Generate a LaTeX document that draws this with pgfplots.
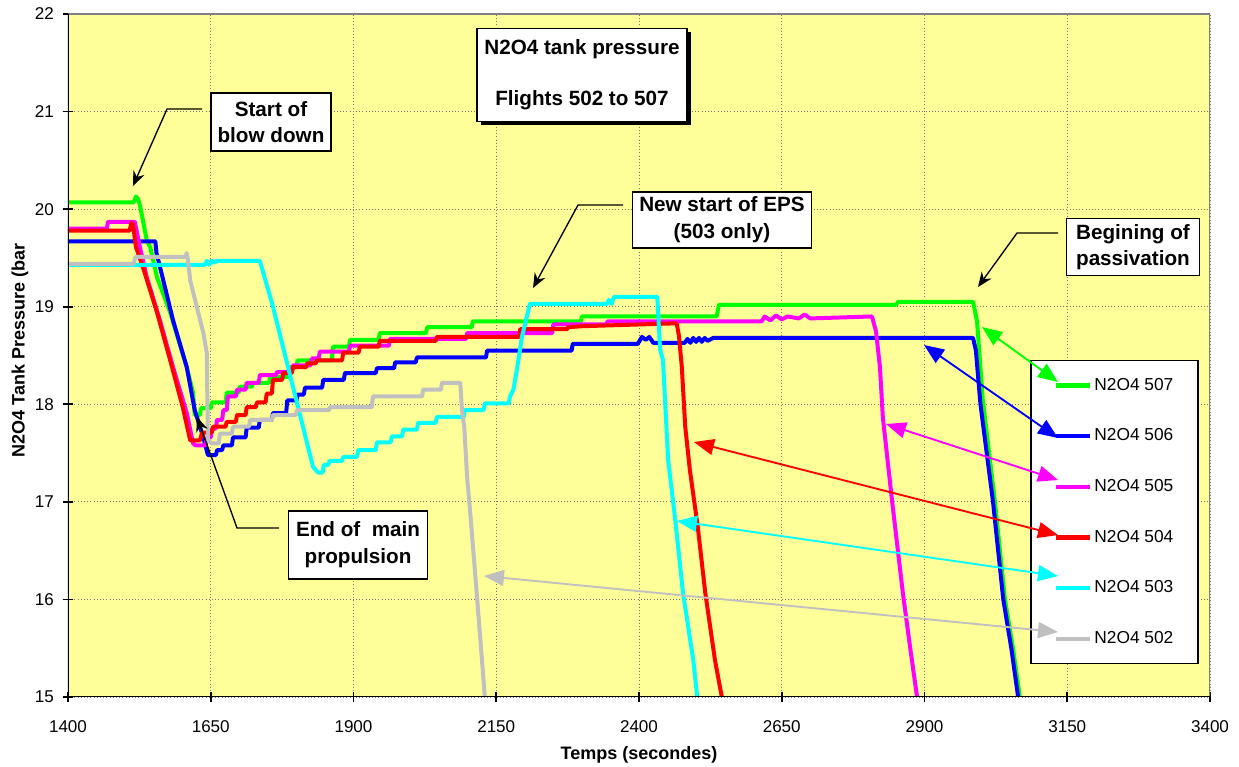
\documentclass[border=0pt]{standalone}
\usepackage{pgfplots}
\pgfplotsset{compat=1.18}
\usepackage{fontspec}
\setmainfont{Liberation Sans}
\usetikzlibrary{arrows.meta,shadows}
\definecolor{bgyellow}{RGB}{255,255,153}
\definecolor{c507}{RGB}{0,255,0}
\definecolor{c506}{RGB}{0,0,255}
\definecolor{c505}{RGB}{255,0,255}
\definecolor{c504}{RGB}{255,0,0}
\definecolor{c503}{RGB}{0,255,255}
\definecolor{c502}{RGB}{192,192,192}
\begin{document}
\begin{tikzpicture}
\begin{axis}[
  at={(0,0)}, anchor=south west,
  width=856.5pt, height=512.25pt, scale only axis,
  xmin=1400, xmax=3400, ymin=15, ymax=22,
  xtick={1400,1650,...,3400}, ytick={15,16,...,22},
  tick pos=left, tick align=center, major tick length=8pt,
  tick style={black, line width=1.2pt},
  grid=major, grid style={dotted, black!55, line width=0.7pt},
  axis line style={draw=none},
  axis background/.style={fill=bgyellow},
  ticklabel style={font=\fontsize{12.8}{14}\selectfont},
  xticklabel style={yshift=-10pt},
  yticklabel style={xshift=-3pt},
  /pgf/number format/assume math mode=true,
  /pgf/number format/1000 sep={},
  xlabel={Temps (secondes)}, ylabel={N2O4 Tank Pressure (bar},
  label style={font=\bfseries\fontsize{13.5}{16}\selectfont},
  xlabel style={at={(axis description cs:0.5,-0.084)}, anchor=center},
  ylabel style={at={(axis description cs:-0.042,0.507)}, anchor=center},
  legend style={at={(0.8424,0.4934)}, anchor=north west, draw=black, line width=1.1pt,
    fill=white, inner xsep=17pt, inner ysep=11pt, row sep=23pt,
    font=\fontsize{13}{15}\selectfont,
    nodes={inner sep=1.5pt, text height=9.5pt, text depth=2.5pt}},
  legend cell align=left,
  legend image code/.code={\draw[line width=3.2pt] (0pt,0pt) -- (26pt,0pt);},
  every axis plot/.append style={line width=3pt, line join=round},
]
% 507
\addplot[c507] coordinates {(1400,20.07)(1515,20.07)(1519,20.13)(1523,20.10)(1526,20.04)(1538,19.68)(1544,19.61)(1556,19.30)(1579,18.94)(1608,18.38)(1619,18.12)(1622,17.89)(1631,17.89)(1633,17.96)(1650,17.96)(1652,18.02)(1676,18.02)(1678,18.12)(1699,18.12)(1701,18.18)(1722,18.18)(1724,18.22)(1752,18.22)(1754,18.28)(1787,18.28)(1789,18.38)(1800,18.38)(1802,18.45)(1862,18.45)(1864,18.59)(1892,18.59)(1894,18.66)(1944,18.66)(1946,18.73)(2027,18.73)(2029,18.79)(2107,18.79)(2109,18.85)(2298,18.85)(2300,18.90)(2536,18.90)(2540,19.02)(2850,19.02)(2854,19.05)(2985,19.05)(2992,18.85)(3002,18.05)(3023,17.02)(3041,16.0)(3055,15.5)(3067,15.0)};
\addlegendentry{N2O4 507}
% 506
\addplot[c506] coordinates {(1400,19.67)(1553,19.67)(1555,19.55)(1561,19.41)(1584,18.86)(1608,18.38)(1622,17.94)(1637,17.66)(1645,17.48)(1659,17.48)(1661,17.53)(1670,17.53)(1672,17.58)(1687,17.58)(1689,17.66)(1711,17.66)(1713,17.76)(1734,17.76)(1736,17.84)(1757,17.84)(1759,17.91)(1782,17.91)(1784,18.04)(1800,18.04)(1802,18.10)(1813,18.10)(1815,18.17)(1845,18.17)(1847,18.25)(1883,18.25)(1885,18.32)(1939,18.32)(1941,18.37)(1971,18.37)(1973,18.43)(2009,18.43)(2011,18.48)(2132,18.48)(2134,18.55)(2282,18.55)(2284,18.62)(2398,18.62)(2405,18.69)(2412,18.66)(2418,18.69)(2425,18.63)(2480,18.63)(2485,18.67)(2490,18.63)(2495,18.68)(2500,18.64)(2505,18.68)(2510,18.64)(2515,18.68)(2520,18.65)(2530,18.68)(2985,18.68)(2990,18.55)(2998,18.0)(3020,17.0)(3038,16.0)(3052,15.5)(3064,15.0)};
\addlegendentry{N2O4 506}
% 505
\addplot[c505] coordinates {(1400,19.80)(1468,19.80)(1470,19.87)(1517,19.87)(1526,19.61)(1538,19.30)(1561,18.86)(1584,18.38)(1608,17.91)(1619,17.60)(1623,17.58)(1641,17.58)(1643,17.66)(1650,17.66)(1652,17.75)(1659,17.75)(1661,17.84)(1670,17.84)(1672,17.94)(1678,17.94)(1680,18.08)(1694,18.08)(1696,18.15)(1711,18.15)(1713,18.22)(1734,18.22)(1736,18.30)(1764,18.30)(1766,18.33)(1792,18.33)(1794,18.40)(1825,18.40)(1827,18.47)(1839,18.47)(1841,18.54)(1892,18.54)(1894,18.60)(1962,18.60)(1964,18.67)(2097,18.67)(2099,18.73)(2248,18.73)(2250,18.82)(2343,18.82)(2345,18.85)(2615,18.85)(2620,18.90)(2630,18.86)(2640,18.91)(2650,18.87)(2660,18.90)(2680,18.88)(2690,18.92)(2700,18.88)(2808,18.90)(2815,18.75)(2822,18.38)(2827,17.87)(2843,17.02)(2862,16.07)(2875,15.5)(2887,15.0)};
\addlegendentry{N2O4 505}
% 504
\addplot[c504] coordinates {(1400,19.78)(1508,19.78)(1511,19.86)(1514,19.84)(1519,19.61)(1531,19.41)(1556,18.94)(1579,18.45)(1601,17.97)(1614,17.63)(1631,17.63)(1635,17.71)(1652,17.71)(1654,17.77)(1676,17.77)(1678,17.82)(1694,17.82)(1696,17.89)(1711,17.89)(1713,17.97)(1729,17.97)(1731,18.02)(1746,18.02)(1748,18.11)(1757,18.11)(1759,18.25)(1775,18.25)(1777,18.32)(1792,18.32)(1794,18.38)(1817,18.38)(1819,18.42)(1834,18.42)(1836,18.45)(1880,18.45)(1882,18.53)(1909,18.53)(1911,18.59)(1944,18.59)(1946,18.65)(2044,18.65)(2046,18.69)(2190,18.69)(2192,18.77)(2274,18.77)(2276,18.79)(2300,18.80)(2466,18.83)(2470,18.70)(2475,18.38)(2481,17.77)(2489,17.33)(2503,16.74)(2516,16.07)(2533,15.38)(2545,15.0)};
\addlegendentry{N2O4 504}
% 503
\addplot[c503] coordinates {(1400,19.43)(1640,19.43)(1643,19.47)(1647,19.43)(1652,19.47)(1656,19.45)(1660,19.47)(1736,19.47)(1759,19.0)(1794,18.18)(1829,17.36)(1838,17.30)(1846,17.30)(1848,17.38)(1856,17.38)(1858,17.42)(1880,17.42)(1882,17.46)(1906,17.46)(1908,17.53)(1939,17.53)(1941,17.61)(1965,17.61)(1967,17.67)(1985,17.67)(1987,17.74)(2011,17.74)(2013,17.81)(2044,17.81)(2046,17.87)(2093,17.87)(2095,17.94)(2128,17.94)(2130,18.01)(2172,18.01)(2174,18.08)(2180,18.15)(2186,18.35)(2195,18.69)(2209,19.03)(2344,19.03)(2347,19.07)(2352,19.03)(2356,19.10)(2432,19.10)(2437,18.56)(2442,18.45)(2451,17.43)(2463,16.84)(2477,16.07)(2495,15.38)(2502,15.0)};
\addlegendentry{N2O4 503}
% 502
\addplot[c502] coordinates {(1400,19.44)(1515,19.44)(1518,19.51)(1605,19.51)(1608,19.55)(1610,19.48)(1614,19.27)(1637,18.73)(1643,18.53)(1645,17.63)(1652,17.60)(1664,17.60)(1666,17.70)(1687,17.70)(1689,17.77)(1717,17.77)(1719,17.84)(1757,17.84)(1759,17.89)(1799,17.89)(1801,17.94)(1857,17.94)(1859,17.97)(1932,17.97)(1934,18.08)(2020,18.08)(2022,18.15)(2053,18.15)(2055,18.22)(2087,18.22)(2090,17.94)(2094,17.77)(2099,17.25)(2104,16.92)(2113,16.27)(2125,15.38)(2130,15.0)};
\addlegendentry{N2O4 502}
% frame
\draw[black!50, line width=1.4pt] (rel axis cs:0,1) -- (rel axis cs:1,1) -- (rel axis cs:1,0);
\draw[black, line width=1.8pt] (rel axis cs:0,1) -- (rel axis cs:0,0) -- (rel axis cs:1,0);
% text boxes
\tikzset{cbox/.style={draw, line width=1pt, fill=white, align=center, inner sep=2pt, font=\bfseries\fontsize{15.5}{20}\selectfont}}
\node[draw, line width=1.2pt, fill=white, drop shadow={shadow xshift=3pt, shadow yshift=-3pt, opacity=1, fill=black}, minimum width=157.5pt, minimum height=69.75pt, align=center, font=\bfseries\fontsize{15.5}{19}\selectfont] at (axis cs:2300.2,21.375) {N2O4 tank pressure\\[19pt]Flights 502 to 507};
\node[cbox, minimum width=90pt, minimum height=43.5pt] at (axis cs:1755.5,20.893) {Start of\\blow down};
\node[cbox, minimum width=134pt, minimum height=42pt] at (axis cs:2545.3,19.889) {New start of EPS\\(503 only)};
\node[cbox, minimum width=100pt, minimum height=42.75pt] at (axis cs:3265.1,19.612) {Begining of\\passivation};
\node[cbox, minimum width=104pt, minimum height=51pt] at (axis cs:1907.9,16.558) {End of~~main\\propulsion};
% anchor coordinates for callouts
\coordinate (bd1) at (axis cs:1634.7,21.026);
\coordinate (bd2) at (axis cs:1573.4,21.026);
\coordinate (bd3) at (axis cs:1513.8,20.237);
\coordinate (ep1) at (axis cs:2372.0,20.042);
\coordinate (ep2) at (axis cs:2293.2,20.042);
\coordinate (ep3) at (axis cs:2214.4,19.192);
\coordinate (pa1) at (axis cs:3133.8,19.755);
\coordinate (pa2) at (axis cs:3062.0,19.755);
\coordinate (pa3) at (axis cs:2993.7,19.202);
\coordinate (em1) at (axis cs:1769.5,16.732);
\coordinate (em2) at (axis cs:1696.0,16.732);
\coordinate (em3) at (axis cs:1625.9,17.870);
\coordinate (g1) at (axis cs:3000.7,18.792);
\coordinate (g2) at (axis cs:3133.8,18.228);
\coordinate (b1) at (axis cs:2899.1,18.608);
\coordinate (b2) at (axis cs:3133.8,17.654);
\coordinate (m1) at (axis cs:2832.6,17.798);
\coordinate (m2) at (axis cs:3133.8,17.224);
\coordinate (r1) at (axis cs:2496.3,17.613);
\coordinate (r2) at (axis cs:3133.8,16.660);
\coordinate (cy1) at (axis cs:2466.5,16.804);
\coordinate (cy2) at (axis cs:3133.8,16.240);
\coordinate (gr1) at (axis cs:2128.5,16.240);
\coordinate (gr2) at (axis cs:3133.8,15.666);
\end{axis}
\tikzset{carrow/.style={line width=1.4pt, {Triangle[length=15pt,width=12pt]}-{Triangle[length=15pt,width=12pt]}}}
\draw[carrow, c507] (g1) -- (g2);
\draw[carrow, c506] (b1) -- (b2);
\draw[carrow, c505] (m1) -- (m2);
\draw[carrow, c504] (r1) -- (r2);
\draw[carrow, c503] (cy1) -- (cy2);
\draw[carrow, c502] (gr1) -- (gr2);
\tikzset{barrow/.style={line width=1pt, -{Stealth[length=11pt,width=9pt]}}}
\draw[barrow] (bd1) -- (bd2) -- (bd3);
\draw[barrow] (ep1) -- (ep2) -- (ep3);
\draw[barrow] (pa1) -- (pa2) -- (pa3);
\draw[barrow] (em1) -- (em2) -- (em3);
\pgfresetboundingbox
\path[use as bounding box] (-51pt,-52.5pt) rectangle (878.25pt,522.75pt);
\end{tikzpicture}
\end{document}
